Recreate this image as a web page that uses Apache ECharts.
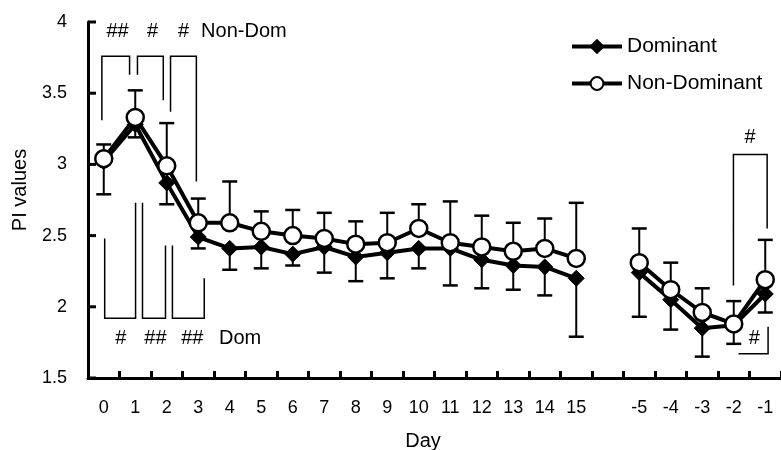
<!DOCTYPE html>
<html>
<head>
<meta charset="utf-8">
<script src="https://cdn.jsdelivr.net/npm/echarts@6/dist/echarts.min.js"></script>
<style>html,body{margin:0;padding:0;background:#fff;}#c{width:781px;height:450px;}</style>
</head>
<body>
<div id="c"></div>
<script>
// ---- data ----
const days = ['0','1','2','3','4','5','6','7','8','9','10','11','12','13','14','15','','-5','-4','-3','-2','-1'];
const dominant      = [3.02,3.28,2.87,2.49,2.41,2.42,2.37,2.42,2.35,2.38,2.41,2.41,2.33,2.29,2.28,2.20,null,2.24,2.05,1.85,1.87,2.09];
const dominantLower = [2.79,3.19,2.72,2.41,2.26,2.27,2.29,2.24,2.18,2.20,2.27,2.15,2.13,2.12,2.08,1.79,null,1.93,1.84,1.65,1.74,1.96];
const nonDominant   = [3.04,3.33,2.99,2.59,2.59,2.53,2.50,2.48,2.44,2.45,2.55,2.45,2.42,2.39,2.41,2.34,null,2.31,2.12,1.96,1.88,2.19];
const nonDomUpper   = [3.14,3.52,3.29,2.76,2.88,2.67,2.68,2.66,2.60,2.66,2.72,2.74,2.64,2.59,2.62,2.73,null,2.55,2.31,2.13,2.04,2.47];
const yTickValues = [1.5, 2, 2.5, 3, 3.5, 4];

// significance brackets: [x1, x2, yBar, yLeftEnd, yRightEnd] (day index units / PI units)
const nonDomBrackets = [
  [-0.06, 0.82, 3.76, 3.31, 3.63],
  [1.07, 1.89, 3.76, 3.63, 3.45],
  [2.12, 2.94, 3.76, 3.37, 2.88],
  [19.99, 21.06, 3.07, 2.15, 2.55]
];
const domBrackets = [
  [0.03, 1.01, 1.92, 2.48, 2.73],
  [1.23, 1.96, 1.92, 2.73, 2.43],
  [2.18, 3.19, 1.92, 2.43, 2.20],
  [20.15, 21.09, 1.67, 1.67, 1.86]
];
// annotation texts: [x, y, text, align]
const notes = [
  [0.44, 3.93, '##', 'center'], [1.55, 3.93, '#', 'center'], [2.53, 3.93, '#', 'center'], [3.09, 3.93, 'Non-Dom', 'left'],
  [0.54, 1.775, '#', 'center'], [1.64, 1.775, '##', 'center'], [2.81, 1.775, '##', 'center'], [3.66, 1.775, 'Dom', 'left'],
  [20.52, 3.19, '#', 'center'], [20.65, 1.775, '#', 'center']
];

// ---- build ----
const FONT = '"Liberation Sans", Arial, sans-serif';
const chart = echarts.init(document.getElementById('c'), null, {renderer: 'canvas'});
const yMin = yTickValues[0], yMax = yTickValues[yTickValues.length - 1], yInt = yTickValues[1] - yTickValues[0];

const upperErr = [], lowerErr = [];
days.forEach((d, i) => {
  if (nonDominant[i] != null) upperErr.push([i, nonDominant[i], nonDomUpper[i]]);
  if (dominant[i] != null) lowerErr.push([i, dominant[i], dominantLower[i]]);
});

function errRender(params, api) {
  const x = api.value(0);
  const a = api.coord([x, api.value(1)]);
  const b = api.coord([x, api.value(2)]);
  const hw = 7.5;
  return {
    type: 'group',
    children: [
      {type: 'line', shape: {x1: a[0], y1: a[1], x2: b[0], y2: b[1]}, style: {stroke: '#000', lineWidth: 2}},
      {type: 'line', shape: {x1: b[0] - hw, y1: b[1], x2: b[0] + hw, y2: b[1]}, style: {stroke: '#000', lineWidth: 2.5}}
    ]
  };
}

const bracketData = nonDomBrackets.concat(domBrackets);
function bracketRender(params, api) {
  const x1 = api.value(0), x2 = api.value(1), yb = api.value(2), yl = api.value(3), yr = api.value(4);
  const pts = [api.coord([x1, yl]), api.coord([x1, yb]), api.coord([x2, yb]), api.coord([x2, yr])];
  return {type: 'polyline', shape: {points: pts}, style: {stroke: '#000', lineWidth: 1.5, fill: null}};
}
function noteRender(params, api) {
  const item = notes[params.dataIndex];
  const p = api.coord([item[0], item[1]]);
  return {type: 'text', x: p[0], y: p[1], style: {text: item[2], fill: '#000', font: '20px ' + FONT, align: item[3], verticalAlign: 'middle'}};
}
function yTickRender(params, api) {
  const p = api.coord([-0.5, api.value(1)]);
  return {type: 'rect', shape: {x: p[0], y: p[1] - 1.5, width: 8, height: 3}, style: {fill: '#000'}};
}

const option = {
  animation: false,
  backgroundColor: '#fff',
  grid: {left: 88, top: 22, width: 697, height: 356, containLabel: false},
  legend: {
    data: ['Dominant', 'Non-Dominant'],
    orient: 'vertical',
    left: 565, top: 31,
    itemWidth: 50, itemHeight: 16, itemGap: 16,
    lineStyle: {width: 4, color: '#000'},
    textStyle: {fontFamily: FONT, fontSize: 21, color: '#000'}
  },
  xAxis: [{
    type: 'category', data: days, boundaryGap: true, position: 'bottom',
    axisLine: {show: true, onZero: false, lineStyle: {color: '#000', width: 3}},
    axisTick: {show: true, inside: true, length: 7, interval: 0, alignWithLabel: false, lineStyle: {color: '#000', width: 3}},
    axisLabel: {interval: 0, margin: 21, color: '#000', fontFamily: FONT, fontSize: 18},
    splitLine: {show: false}
  }, {
    type: 'value', min: -0.5, max: 21.5, show: false, position: 'bottom',
    axisLine: {onZero: false}, splitLine: {show: false}
  }],
  yAxis: {
    type: 'value', min: yMin, max: yMax, interval: yInt, position: 'left',
    axisLine: {show: true, onZero: false, lineStyle: {color: '#000', width: 3}},
    axisTick: {show: false},
    axisLabel: {margin: 21, color: '#000', fontFamily: FONT, fontSize: 18},
    splitLine: {show: false}
  },
  graphic: [
    {type: 'text', x: 20, y: 190, rotation: Math.PI / 2, style: {text: 'PI values', fill: '#000', font: '20px ' + FONT, align: 'center', verticalAlign: 'middle'}},
    {type: 'text', x: 423, y: 441, style: {text: 'Day', fill: '#000', font: '20px ' + FONT, align: 'center', verticalAlign: 'middle'}}
  ],
  series: [
    {type: 'custom', name: 'yticks', xAxisIndex: 1, renderItem: yTickRender, data: yTickValues.map(v => [-0.5, v]), z: 10, zlevel: 1, silent: true, clip: false},
    {type: 'custom', name: 'errU', xAxisIndex: 0, renderItem: errRender, data: upperErr, z: 1, silent: true},
    {type: 'custom', name: 'errL', xAxisIndex: 0, renderItem: errRender, data: lowerErr, z: 1, silent: true},
    {type: 'custom', name: 'brackets', xAxisIndex: 1, renderItem: bracketRender, data: bracketData, z: 1, silent: true, clip: false},
    {type: 'custom', name: 'notes', xAxisIndex: 1, renderItem: noteRender, data: notes.map(n => [n[0], n[1]]), z: 1, silent: true, clip: false},
    {
      type: 'line', name: 'Dominant', data: dominant, connectNulls: false, z: 2,
      lineStyle: {color: '#000', width: 4},
      symbol: 'diamond', symbolSize: 16, showAllSymbol: true,
      itemStyle: {color: '#000', borderColor: '#000', borderWidth: 1}
    },
    {
      type: 'line', name: 'Non-Dominant', data: nonDominant, connectNulls: false, z: 3,
      lineStyle: {color: '#000', width: 4},
      symbol: 'circle', symbolSize: 17, showAllSymbol: true,
      itemStyle: {color: '#fff', borderColor: '#000', borderWidth: 2.5}
    }
  ]
};
chart.setOption(option);
</script>
</body>
</html>
